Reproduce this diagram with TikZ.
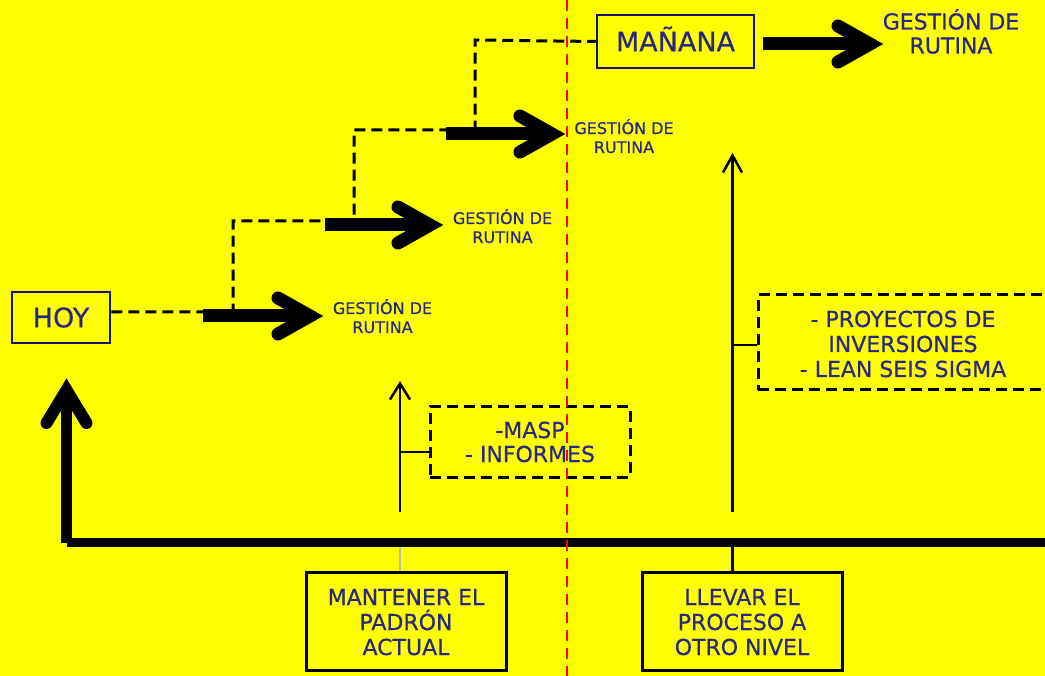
\documentclass[tikz,border=0pt]{standalone}
\usepackage{fontspec}
\setmainfont{DejaVu Sans}[FakeBold=0.5]
\definecolor{ink}{RGB}{40,40,130}
\definecolor{navy}{RGB}{20,20,110}
\definecolor{bg}{RGB}{255,255,0}
\definecolor{lightgray}{RGB}{185,185,185}
\tikzset{
  lbl/.style={text=ink, align=center, inner sep=0pt},
  navybox/.style={draw=navy, line width=2.5pt, text=ink, inner sep=0pt,
    font=\fontsize{27}{30}\selectfont, text height=19.7pt, text depth=0pt},
  blackbox/.style={draw=black, line width=3pt, text=ink, align=center, inner sep=0pt,
    font=\fontsize{22}{25}\selectfont, text height=68pt, text depth=0pt},
  dashbox/.style={draw=black, line width=3pt, dash pattern=on 11pt off 6pt,
    text=ink, align=center, inner sep=0pt},
  dashline/.style={black, line width=3pt, dash pattern=on 11pt off 6pt},
  shaft/.style={line width=13pt},
  barb/.style={line width=13pt, line cap=round, line join=miter},
  stem/.style={line width=2.5pt, line join=miter},
  divider/.style={red, line width=2.5pt, dash pattern=on 11pt off 7pt},
  small/.style={lbl, font=\fontsize{16}{19}\selectfont, anchor=base},
}
\begin{document}
\begin{tikzpicture}[x=1pt, y=-1pt]
  \useasboundingbox (0,0) rectangle (1045,676);
  \clip (0,0) rectangle (1045,676);
  \fill[bg] (0,0) rectangle (1045,676);

  % start and goal boxes
  \node[navybox, minimum width=98pt, minimum height=51pt] (hoy) at (61,317.5) {HOY};
  \node[navybox, minimum width=157pt, minimum height=53pt] (manana) at (675.5,41.5) {MAÑANA};

  % routine-management labels
  \node[small] (g1) at (382.5,333) {GESTIÓN DE\\RUTINA};
  \node[small] (g2) at (502.5,243) {GESTIÓN DE\\RUTINA};
  \node[small] (g3) at (624,153) {GESTIÓN DE\\RUTINA};
  \node[lbl, font=\fontsize{22}{24}\selectfont, anchor=base] (g4) at (951,53.5) {GESTIÓN DE\\RUTINA};

  % stepped dashed path from HOY up to MAÑANA
  \draw[dashline] ([yshift=5.5pt]hoy.east) -- (233,312) -- (233,221) -- (354,221)
    -- (354,130) -- (475,130) -- (475,40) -- (manana.west);

  % thick step arrows
  \coordinate (t1) at (310,316);
  \coordinate (t2) at (430,225);
  \coordinate (t3) at (552,134);
  \coordinate (t4) at (870,44);
  \draw[shaft] (203,316) -- (t1);
  \draw[shaft] (325,225) -- (t2);
  \draw[shaft] (446,134) -- (t3);
  \draw[shaft] (763,44) -- (t4);
  \foreach \t in {t1,t2,t3,t4}
    \draw[barb] (\t) ++(-32,-18) -- (\t) -- ++(-32,18);

  % base line with the arrow rising to HOY
  \draw[line width=11pt] (66.5,543) -- (66.5,390);
  \draw[line width=12pt, line cap=round, line join=miter] (46.5,423) -- (66.5,390) -- (86.5,423);
  \draw[line width=9pt] (67,542.5) -- (1045,542.5);

  % bottom boxes
  \node[blackbox, minimum width=200pt, minimum height=98pt] (mant) at (406,621)
    {MANTENER EL\\PADRÓN\\ACTUAL};
  \node[blackbox, minimum width=200pt, minimum height=98pt] (llevar) at (742,621)
    {LLEVAR EL\\PROCESO A\\OTRO NIVEL};
  \coordinate (c1) at (400,547);
  \coordinate (c2) at (732.5,547);
  \draw[lightgray, line width=2pt] (c1) -- (c1 |- mant.north);
  \draw[line width=2.5pt] (c2) -- (c2 |- llevar.north);

  % tool boxes
  \node[dashbox, font=\fontsize{22}{24}\selectfont, minimum width=200pt, minimum height=70pt]
    (masp) at (530,442) {-MASP\\- INFORMES};
  \node[dashbox, font=\fontsize{22}{25}\selectfont, minimum width=290pt, minimum height=95pt,
    text height=69pt, text depth=0pt]
    (proy) at (903,342.5) {- PROYECTOS DE\\INVERSIONES\\- LEAN SEIS SIGMA};

  % thin upward arrows with their branches
  \coordinate (a1) at (400,512);
  \coordinate (a1t) at (400,383.5);
  \coordinate (a2) at (732.5,512);
  \coordinate (a2t) at (732.5,155.5);
  \draw[stem] (a1) -- (a1t);
  \draw[stem] (a1t) ++(-10,16) -- (a1t) -- ++(10,16);
  \draw[stem] (a2) -- (a2t);
  \draw[stem] (a2t) ++(-9.5,17) -- (a2t) -- ++(9.5,17);
  \coordinate (b1) at (400,452);
  \coordinate (b2) at (732.5,345);
  \draw[stem] (b1) -- (b1 -| masp.west);
  \draw[stem] (b2) -- (b2 -| proy.west);

  % dividing line
  \draw[divider] (567,0) -- (567,676);
\end{tikzpicture}
\end{document}
